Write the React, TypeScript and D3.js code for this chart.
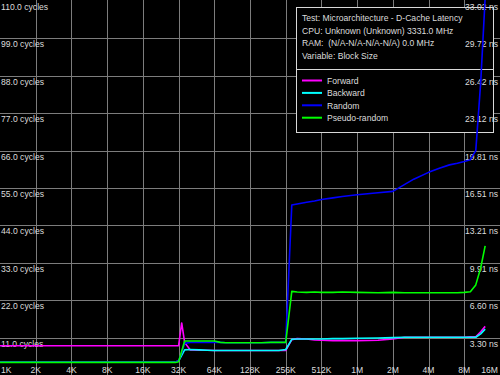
import React from 'react';
import { scaleLog, scaleLinear, line, curveLinear } from 'd3';

// block sizes in KB
const sizes = [1, 2, 4, 8, 16, 24, 28, 30, 32, 34, 36, 40, 48, 56, 64, 72, 80, 96, 128, 160, 192, 224, 256,
  288, 320, 384, 448, 512, 640, 768, 1024, 1536, 2048, 2560, 3072, 4096, 5120, 6144, 7168, 8192,
  9216, 10240, 11264, 12288];

const forward = [8.6, 8.6, 8.6, 8.6, 8.6, 8.6, 8.6, 8.6, 8.6, 15.3, 9.6, 7.4, 7.3, 7.3, 7.2, 7.2, 7.2, 7.2, 7.2, 7.2, 7.2, 7.2, 7.2,
  10.4, 10.7, 10.6, 10.3, 10.2, 10.1, 10.1, 10.1, 10.2, 10.6, 11.1, 11.1, 11.1, 11.1, 11.1, 11.1, 11.1,
  11.2, 11.2, 12.7, 14.3];

const backward = [3.8, 3.8, 3.8, 3.8, 3.8, 3.8, 3.8, 3.8, 4.1, 5.8, 7.4, 7.5, 7.4, 7.3, 7.2, 7.2, 7.2, 7.2, 7.2, 7.2, 7.2, 7.2, 7.5,
  10.5, 10.6, 10.6, 10.6, 10.6, 10.7, 10.7, 10.8, 10.9, 11.0, 11.1, 11.1, 11.1, 11.1, 11.1, 11.1, 11.1,
  11.1, 11.1, 12.1, 13.5];

const random = [3.8, 3.8, 3.8, 3.8, 3.8, 3.8, 3.8, 3.8, 4.2, 6.5, 9.3, 9.6, 9.6, 9.6, 9.6, 9.6, 9.5, 9.5, 9.5, 9.5, 9.6, 9.6, 9.6,
  50.0, 50.3, 50.8, 51.2, 51.6, 52.1, 52.5, 53.0, 53.6, 54.0, 56.0, 57.6, 59.6, 60.9, 61.8, 62.3, 62.8,
  63.3, 66.0, 86.0, 111.0];

const pseudoRandom = [3.7, 3.7, 3.7, 3.7, 3.7, 3.7, 3.7, 3.7, 3.9, 7.0, 10.0, 10.0, 10.0, 10.0, 10.0, 9.6, 9.5, 9.5, 9.5, 9.5, 9.6, 9.6, 9.6,
  24.6, 24.4, 24.3, 24.4, 24.3, 24.3, 24.4, 24.3, 24.2, 24.3, 24.2, 24.2, 24.2, 24.2, 24.2, 24.2, 24.3,
  24.5, 26.5, 31.5, 38.0];

const xTicks = [1, 2, 4, 8, 16, 32, 64, 128, 256, 512, 1024, 2048, 4096, 8192, 16384];
const xLabels = ['1K', '2K', '4K', '8K', '16K', '32K', '64K', '128K', '256K', '512K', '1M', '2M', '4M', '8M', '16M'];

const yTicks = [11, 22, 33, 44, 55, 66, 77, 88, 99, 110];
const cycleLabels = ['11.0 cycles', '22.0 cycles', '33.0 cycles', '44.0 cycles', '55.0 cycles', '66.0 cycles',
  '77.0 cycles', '88.0 cycles', '99.0 cycles', '110.0 cycles'];
const nsLabels = ['3.30 ns', '6.60 ns', '9.91 ns', '13.21 ns', '16.51 ns', '19.81 ns', '23.12 ns', '26.42 ns',
  '29.72 ns', '33.02 ns'];

const infoLines = [
  'Test: Microarchitecture - D-Cache Latency',
  'CPU: Unknown (Unknown) 3331.0 MHz',
  'RAM:  (N/A-N/A-N/A-N/A) 0.0 MHz',
  'Variable: Block Size',
];

const seriesNames = ['Forward', 'Backward', 'Random', 'Pseudo-random'];
const seriesValues = [forward, backward, random, pseudoRandom];
const seriesColors = ['#ff00ff', '#00ffff', '#0000ff', '#00ff00'];

const W = 500;
const H = 375;
const font = '"Liberation Sans", Arial, sans-serif';
const textColor = '#dcdcdc';
const gridColor = '#7c7c7c';

const App = () => {
  const x = scaleLog().base(2).domain([1, 16384]).range([0, W]);
  const y = scaleLinear().domain([0, 110]).range([H, 1]);

  const path = line<number>()
    .x((_, i) => x(sizes[i]))
    .y(d => y(d))
    .curve(curveLinear);

  return (
    <div style={{ position: 'fixed', left: 0, top: 0, width: W, height: H, background: '#000' }}>
      <svg width={W} height={H} style={{ display: 'block' }} fontFamily={font} fontSize={8.6}>
        <rect x={0} y={0} width={W} height={H} fill="#000" />
        <defs>
          <clipPath id="plot">
            <rect x={0} y={0} width={W} height={H} />
          </clipPath>
        </defs>
        {xTicks.slice(1, -1).map(t => (
          <line key={'vx' + t} x1={Math.round(x(t)) + 0.5} x2={Math.round(x(t)) + 0.5} y1={0} y2={H}
            stroke={gridColor} strokeWidth={1} />
        ))}
        {yTicks.slice(0, -1).map(t => (
          <line key={'hy' + t} x1={0} x2={W} y1={Math.round(y(t)) + 0.5} y2={Math.round(y(t)) + 0.5}
            stroke={gridColor} strokeWidth={1} />
        ))}

        <g>
          <rect x={296.5} y={7.5} width={197} height={125} fill="#000" stroke="#d8d8d8" strokeWidth={1} />
          <line x1={296.5} x2={493.5} y1={69.5} y2={69.5} stroke="#d8d8d8" strokeWidth={1} />
          {infoLines.map((s, i) => (
            <text key={s} x={302} y={21 + i * 12.5} fill={textColor} style={{ whiteSpace: 'pre' }}>{s}</text>
          ))}
          {seriesNames.map((s, i) => (
            <g key={s}>
              <line x1={302} x2={322} y1={80.5 + i * 12.4} y2={80.5 + i * 12.4} stroke={seriesColors[i]} strokeWidth={2} />
              <text x={327} y={84 + i * 12.4} fill={textColor}>{s}</text>
            </g>
          ))}
        </g>

        {yTicks.map((t, i) => (
          <g key={'yl' + t}>
            <text x={1} y={y(t) + 9} fill={textColor}>{cycleLabels[i]}</text>
            <text x={498} y={y(t) + 9} fill={textColor} textAnchor="end">{nsLabels[i]}</text>
          </g>
        ))}
        {xTicks.map((t, i) => (
          <text key={'xl' + t} x={i === 0 ? 1 : i === xTicks.length - 1 ? 498 : x(t)} y={373}
            fill={textColor}
            textAnchor={i === 0 ? 'start' : i === xTicks.length - 1 ? 'end' : 'middle'}>{xLabels[i]}</text>
        ))}

        <g clipPath="url(#plot)">
          {seriesValues.map((vals, i) => (
            <path key={seriesNames[i]} d={path(vals) || ''} fill="none" stroke={seriesColors[i]} strokeWidth={1.6}
              strokeLinejoin="round" />
          ))}
        </g>
      </svg>
    </div>
  );
};

export default App;
